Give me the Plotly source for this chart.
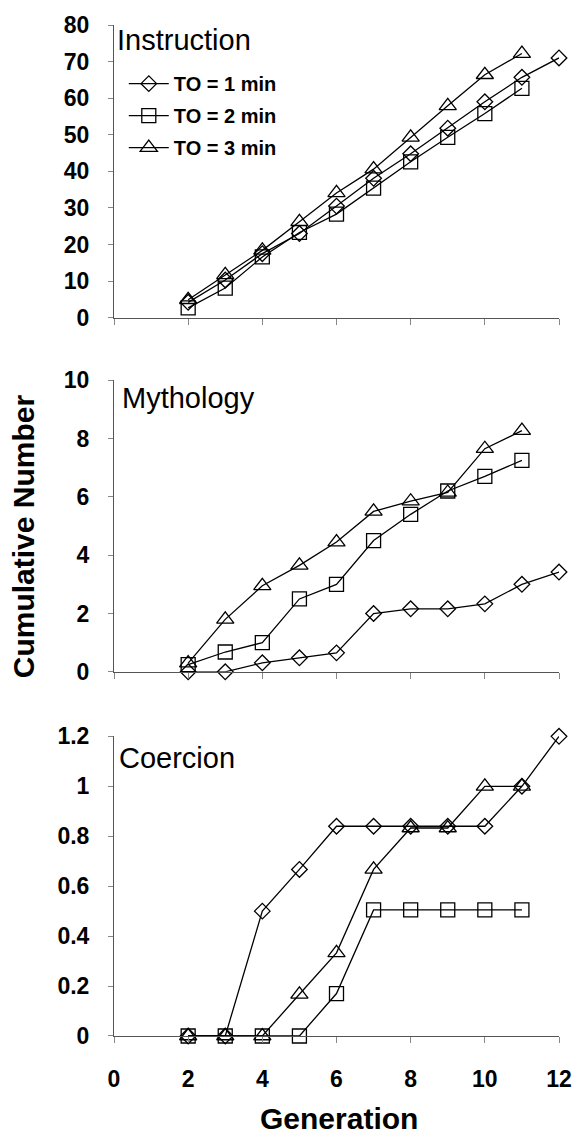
import plotly.graph_objects as go

# ---------------- data ----------------
gen_to1 = [2, 3, 4, 5, 6, 7, 8, 9, 10, 11, 12]
gen_to2 = [2, 3, 4, 5, 6, 7, 8, 9, 10, 11]
gen_to3 = [2, 3, 4, 5, 6, 7, 8, 9, 10, 11]

series_names = ["TO = 1 min", "TO = 2 min", "TO = 3 min"]

instruction_to1 = [4.2, 10.3, 17.5, 23.0, 30.5, 38.1, 44.8, 51.8, 59.0, 65.7, 71.0]
instruction_to2 = [2.7, 8.1, 16.6, 23.3, 28.3, 35.4, 42.6, 49.3, 55.8, 62.7]
instruction_to3 = [4.9, 11.7, 18.4, 26.2, 34.1, 40.6, 49.3, 57.9, 66.4, 72.2]

mythology_to1 = [0.0, 0.0, 0.31, 0.48, 0.65, 2.0, 2.16, 2.16, 2.33, 3.0, 3.42]
mythology_to2 = [0.25, 0.68, 1.0, 2.5, 3.0, 4.5, 5.4, 6.2, 6.7, 7.25]
mythology_to3 = [0.3, 1.8, 2.95, 3.65, 4.45, 5.5, 5.85, 6.15, 7.65, 8.27]

coercion_to1 = [0, 0, 0.5, 0.667, 0.84, 0.84, 0.84, 0.84, 0.84, 1.0, 1.2]
coercion_to2 = [0, 0, 0, 0, 0.17, 0.505, 0.505, 0.505, 0.505, 0.505]
coercion_to3 = [0, 0, 0, 0.167, 0.333, 0.667, 0.833, 0.833, 1.0, 1.0]

panel_titles = ["Instruction", "Mythology", "Coercion"]

x_ticks = [0, 2, 4, 6, 8, 10, 12]
y_ticks_instruction = [0, 10, 20, 30, 40, 50, 60, 70, 80]
y_ticks_mythology = [0, 2, 4, 6, 8, 10]
y_ticks_coercion = [0, 0.2, 0.4, 0.6, 0.8, 1, 1.2]
y_ticktext_coercion = ["0", "0.2", "0.4", "0.6", "0.8", "1", "1.2"]

x_title = "Generation"
y_title = "Cumulative Number"

# ---------------- styling ----------------
FONT = "Liberation Sans, Arial, sans-serif"
symbols = ["diamond-open", "square-open", "triangle-up-open"]
msizes = [12, 14, 15]

fig = go.Figure()

panels = [
    ("x", "y", [instruction_to1, instruction_to2, instruction_to3]),
    ("x2", "y2", [mythology_to1, mythology_to2, mythology_to3]),
    ("x3", "y3", [coercion_to1, coercion_to2, coercion_to3]),
]
gens = [gen_to1, gen_to2, gen_to3]

for pi, (xa, ya, series) in enumerate(panels):
    for si, vals in enumerate(series):
        fig.add_trace(go.Scatter(
            x=gens[si], y=vals, xaxis=xa, yaxis=ya,
            mode="lines+markers",
            name=series_names[si],
            legendgroup=series_names[si],
            showlegend=(pi == 0),
            line=dict(color="black", width=1.3),
            marker=dict(symbol=symbols[si], size=msizes[si],
                        color="black", line=dict(color="black", width=1.3)),
            cliponaxis=False,
        ))

axis_line = "#555555"
tick_col = "#888888"

def xaxis_cfg(show_labels):
    return dict(
        range=[0, 12], tickvals=x_ticks, showticklabels=show_labels,
        ticks="outside", ticklen=6, tickcolor=tick_col, tickwidth=1,
        showline=True, linecolor=axis_line, linewidth=1,
        showgrid=False, zeroline=False,
        tickfont=dict(family=FONT, size=23, color="black", weight="bold"),
        ticklabelstandoff=16,
    )

def yaxis_cfg(rng, dom, tv, tt=None):
    d = dict(
        range=rng, domain=dom, tickvals=tv,
        ticks="outside", ticklen=5, tickcolor=tick_col, tickwidth=1,
        showline=True, linecolor=axis_line, linewidth=1,
        showgrid=False, zeroline=False,
        tickfont=dict(family=FONT, size=23, color="black", weight="bold"),
        ticklabelstandoff=14,
    )
    if tt is not None:
        d["ticktext"] = tt
    return d

fig.update_layout(
    width=584, height=1136,
    margin=dict(l=114, r=19, t=17, b=100),
    paper_bgcolor="white", plot_bgcolor="white",
    font=dict(family=FONT, color="black"),
    xaxis=dict(anchor="y", **xaxis_cfg(False)),
    xaxis2=dict(anchor="y2", matches="x", **xaxis_cfg(False)),
    xaxis3=dict(anchor="y3", matches="x", **xaxis_cfg(True)),
    yaxis=dict(anchor="x", **yaxis_cfg([0, 80], [0.7105, 1.0], y_ticks_instruction)),
    yaxis2=dict(anchor="x2", **yaxis_cfg([0, 10], [0.3602, 0.6487], y_ticks_mythology)),
    yaxis3=dict(anchor="x3", **yaxis_cfg([0, 1.2], [0.0, 0.2964], y_ticks_coercion, y_ticktext_coercion)),
    legend=dict(
        x=0.022, y=0.9613, xanchor="left", yanchor="top",
        bgcolor="rgba(0,0,0,0)", borderwidth=0,
        font=dict(family=FONT, size=20, color="black", weight="bold"),
        tracegroupgap=3, itemwidth=40,
    ),
    showlegend=True,
)

# panel titles
title_pos = [(0.003, 0.9852), (0.014, 0.6315), (0.006, 0.2748)]
for t, (px, py) in zip(panel_titles, title_pos):
    fig.add_annotation(text=t, xref="paper", yref="paper", x=px, y=py,
                       xanchor="left", yanchor="middle", showarrow=False,
                       font=dict(family=FONT, size=29, color="black"))

fig.add_annotation(text=x_title, xref="paper", yref="paper", x=0.5055, y=-0.0815,
                   xanchor="center", yanchor="middle", showarrow=False,
                   font=dict(family=FONT, size=30, color="black", weight="bold"))
fig.add_annotation(text=y_title, xref="paper", yref="paper", x=-0.203, y=0.494,
                   xanchor="center", yanchor="middle", showarrow=False, textangle=-90,
                   font=dict(family=FONT, size=30, color="black", weight="bold"))

fig.write_html("out.html")
